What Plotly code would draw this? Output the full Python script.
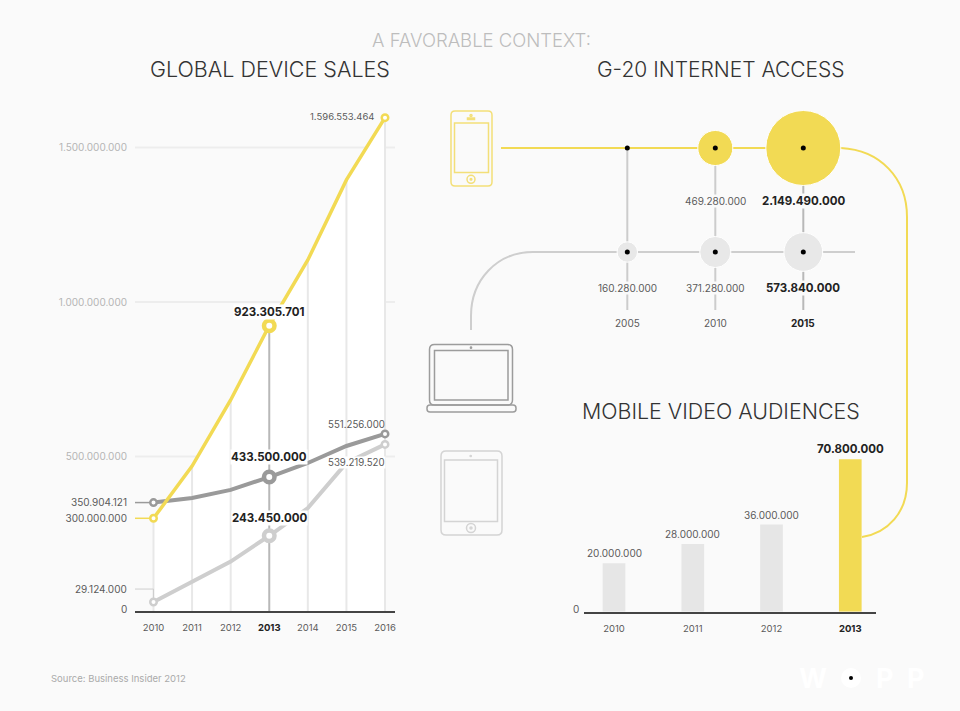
import plotly.graph_objects as go

W, H = 960, 711
FONT = "Inter"
YELLOW = "#f2da54"
DARK = "#9a9a9a"
LIGHT = "#cecece"
STEM = "#e8e8e8"
STEM_ON = "#b8b8b8"
BG = "#fafafa"
TXT = "#5a5a5a"
TXT_BOLD = "#222222"
TXT_AXIS = "#b5b5b5"

# global device sales. plotted values are read off the line positions,
# the printed numbers below are not always on the same scale
years = [2010, 2011, 2012, 2013, 2014, 2015, 2016]
phones = [300000000, 469000000, 683000000, 923305701, 1136000000, 1395000000, 1596553464]
laptops = [350904121, 366000000, 392000000, 433500000, 479000000, 534000000, 573000000]
tablets = [29124000, 95000000, 160000000, 243450000, 333000000, 479000000, 539219520]
grid_values = [500000000, 1000000000, 1500000000]

# g-20 internet access, no mobile bubble in 2005
access_years = [2005, 2010, 2015]
mobile_access = [0, 469280000, 2149490000]
fixed_access = [160280000, 371280000, 573840000]
mobile_labels = ["469.280.000", "2.149.490.000"]
fixed_labels = ["160.280.000", "371.280.000", "573.840.000"]

# mobile video audiences, bar heights
video_years = [2010, 2011, 2012, 2013]
video_bars = [20000000, 28000000, 36000000, 63000000]
video_labels = ["20.000.000", "28.000.000", "36.000.000", "70.800.000"]


def X(px):
    return px / W


def Y(py):
    return 1 - py / H


def pt(x, y):
    return f"{X(x):.5f},{Y(y):.5f}"


def line_path(color, width, d):
    return dict(type="path", xref="paper", yref="paper", layer="below", path=d,
                line=dict(color=color, width=width))


def round_rect(x0, y0, x1, y1, r, color, width):
    d = (f"M{pt(x0 + r, y0)} L{pt(x1 - r, y0)} Q{pt(x1, y0)} {pt(x1, y0 + r)} "
         f"L{pt(x1, y1 - r)} Q{pt(x1, y1)} {pt(x1 - r, y1)} "
         f"L{pt(x0 + r, y1)} Q{pt(x0, y1)} {pt(x0, y1 - r)} "
         f"L{pt(x0, y0 + r)} Q{pt(x0, y0)} {pt(x0 + r, y0)} Z")
    return line_path(color, width, d)


def circle(cx, cy, r, color, width=1.5, fill="rgba(0,0,0,0)"):
    return dict(type="circle", xref="paper", yref="paper", layer="below",
                x0=X(cx - r), x1=X(cx + r), y0=Y(cy + r), y1=Y(cy - r),
                line=dict(color=color, width=width), fillcolor=fill)


def label(text, x, y, xref, yref, size=10, color=TXT, bold=False, anchor="center", xshift=0, yshift=0, bg=None):
    return dict(text=f"<b>{text}</b>" if bold else text, x=x, y=y, xref=xref, yref=yref,
                showarrow=False, xanchor=anchor, yanchor="middle", xshift=xshift, yshift=yshift,
                font=dict(family=FONT, size=size, color=color), bgcolor=bg, borderpad=0)


def page_text(text, x, y, size, color, anchor="center", weight=300):
    return dict(text=text, x=X(x), y=Y(y), xref="paper", yref="paper", showarrow=False,
                xanchor=anchor, yanchor="middle",
                font=dict(family=FONT, size=size, color=color, weight=weight))


def line(x, y, color, width, xa="x", ya="y"):
    return go.Scatter(x=x, y=y, mode="lines", line=dict(color=color, width=width),
                      xaxis=xa, yaxis=ya, hoverinfo="skip", showlegend=False)


def rings(series, color):
    small = go.Scatter(x=[years[0], years[-1]], y=[series[0], series[-1]], mode="markers",
                       marker=dict(size=6.5, color="white", line=dict(color=color, width=2.5)),
                       hoverinfo="skip", showlegend=False)
    big = go.Scatter(x=[years[3]], y=[series[3]], mode="markers",
                     marker=dict(size=10.5, color="white", line=dict(color=color, width=4.5)),
                     hoverinfo="skip", showlegend=False)
    return [small, big]


left_min, left_max = 2010 - 18.5 / 38.58, 2016 + 10 / 38.58
bar_min = 2010 - 30 / 78.7
fig = go.Figure()

# left chart
for v in grid_values:
    fig.add_trace(line([left_min, left_max], [v, v], "#ededed", 2))
fig.add_trace(go.Scatter(x=years, y=phones, mode="none", fill="tozeroy", fillcolor="white",
                         hoverinfo="skip", showlegend=False))
for yr, v in zip(years, phones):
    fig.add_trace(line([yr, yr], [0, v], STEM_ON if yr == 2013 else STEM, 2))
fig.add_trace(line([left_min, 2010], [phones[0], phones[0]], YELLOW, 1.5))
fig.add_trace(line([left_min, 2010], [laptops[0], laptops[0]], DARK, 1.5))
fig.add_trace(line([left_min, 2010, 2010], [71000000, 71000000, tablets[0]], LIGHT, 1))
fig.add_trace(line(years, tablets, LIGHT, 4))
fig.add_trace(line(years, laptops, DARK, 4))
fig.add_trace(line(years, phones, YELLOW, 3.5))
for tr in rings(tablets, LIGHT) + rings(laptops, DARK) + rings(phones, YELLOW):
    fig.add_trace(tr)

# bubbles
stem_bottom = -58 / 104
for yr in access_years:
    fig.add_trace(line([yr, yr], [1, stem_bottom], STEM_ON if yr == 2015 else "#cccccc", 2, "x2", "y2"))
size_ref = max(mobile_access) / (2 * 37.5 ** 2)
fig.add_trace(go.Scatter(x=access_years, y=[1] * 3, mode="markers", xaxis="x2", yaxis="y2",
                         marker=dict(size=mobile_access, sizemode="area", sizeref=size_ref, color=YELLOW, opacity=1),
                         hoverinfo="skip", showlegend=False))
fig.add_trace(go.Scatter(x=access_years, y=[0] * 3, mode="markers", xaxis="x2", yaxis="y2",
                         marker=dict(size=fixed_access, sizemode="area", sizeref=size_ref, color="#e8e8e8", opacity=1),
                         hoverinfo="skip", showlegend=False))
fig.add_trace(go.Scatter(x=access_years * 2, y=[1] * 3 + [0] * 3, mode="markers", xaxis="x2", yaxis="y2",
                         marker=dict(size=5, color="black"), hoverinfo="skip", showlegend=False))

# bars
fig.add_trace(go.Bar(x=video_years, y=video_bars, width=0.288, xaxis="x3", yaxis="y3",
                     marker=dict(color=["#e6e6e6", "#e6e6e6", "#e6e6e6", YELLOW], line=dict(width=0)),
                     hoverinfo="skip", showlegend=False))

# connectors and icons sit under everything
shapes = [
    line_path(LIGHT, 2, f"M{pt(471, 330)} L{pt(471, 316)} C{pt(471, 280)} {pt(497, 252)} {pt(533, 252)} L{pt(855, 252)}"),
    line_path(YELLOW, 2, f"M{pt(501, 148)} L{pt(841, 148)} C{pt(880, 150)} {pt(907, 178)} {pt(907, 217)} "
                         f"L{pt(907, 483)} C{pt(907, 512)} {pt(888, 533)} {pt(862, 537)}"),
    # phone
    round_rect(451, 111, 492, 186, 4, "#f3df78", 1.5),
    round_rect(454.5, 123, 488.5, 172.5, 0, "#f3df78", 1.5),
    circle(471, 179.3, 4, "#f3df78"),
    circle(471, 179.3, 0.8, "#f3df78"),
    circle(471, 115.5, 1, "#f3df78"),
    round_rect(467.5, 118, 474.5, 119.5, 0, "#f3df78", 1.5),
    # laptop
    round_rect(429.5, 344.5, 512.5, 405, 5, "#9c9c9c", 1.5),
    round_rect(434.5, 350.5, 508, 400, 0, "#9c9c9c", 1.5),
    circle(471, 347.7, 0.6, "#9c9c9c"),
    round_rect(427, 405, 516, 412, 3, "#9c9c9c", 1.5),
    # tablet
    round_rect(441, 451, 502, 535, 5, "#d4d4d4", 1.5),
    round_rect(444.5, 460, 497.5, 521.5, 0, "#d4d4d4", 1.5),
    circle(471, 528, 4.5, "#d4d4d4"),
    circle(471, 528, 1, "#d4d4d4"),
    circle(470.7, 456, 0.6, "#d4d4d4"),
    # logo
    circle(851, 678, 10, "white", 0, "white"),
    circle(851, 678, 2, "black", 0, "black"),
]

annotations = [
    page_text("A FAVORABLE CONTEXT:", 481, 39.5, 18.5, "#bdbdbd"),
    page_text("GLOBAL DEVICE SALES", 270, 69, 21.5, "#333333"),
    page_text("G-20 INTERNET ACCESS", 721, 69, 21, "#333333"),
    page_text("MOBILE VIDEO AUDIENCES", 721, 411, 21.4, "#333333"),
    page_text("Source: Business Insider 2012", 49, 678, 9.5, "#aaaaaa", anchor="left", weight=400),
    page_text("<b>W</b>", 813, 678, 27, "white", weight=700),
    page_text("<b>P</b>", 885, 678, 27, "white", weight=700),
    page_text("<b>P</b>", 916, 678, 27, "white", weight=700),
    label("29.124.000", left_min, 71000000, "x", "y", anchor="right", xshift=-7.5),
    label("0", left_min, 0, "x", "y", anchor="right", xshift=-7.5, yshift=2),
    label("1.596.553.464", 2016, phones[6], "x", "y", size=9.5, anchor="right", xshift=-10, yshift=1),
    label("551.256.000", 2016, laptops[6], "x", "y", size=9.7, anchor="right", xshift=1, yshift=9),
    label("539.219.520", 2016, tablets[6], "x", "y", size=9.7, anchor="right", xshift=1, yshift=-18, bg="white"),
    label("923.305.701", 2013, phones[3], "x", "y", size=11.5, color=TXT_BOLD, bold=True, yshift=14, bg="white"),
    label("433.500.000", 2013, laptops[3], "x", "y", size=11.5, color=TXT_BOLD, bold=True, yshift=20, bg="white"),
    label("243.450.000", 2013, tablets[3], "x", "y", size=11.5, color=TXT_BOLD, bold=True, yshift=18, bg="white"),
]
for yr, txt in zip(access_years[1:], mobile_labels):
    big = yr == 2015
    annotations.append(label(txt, yr, 1, "x2", "y2", size=11.5 if big else 10, color=TXT_BOLD if big else TXT,
                             bold=big, yshift=-53, bg=BG))
for yr, txt in zip(access_years, fixed_labels):
    big = yr == 2015
    annotations.append(label(txt, yr, 0, "x2", "y2", size=11.5 if big else 10, color=TXT_BOLD if big else TXT,
                             bold=big, yshift=-36, bg=BG))
for yr in access_years:
    big = yr == 2015
    annotations.append(label(str(yr), yr, 0, "x2", "y2", size=10, color=TXT_BOLD if big else TXT,
                             bold=big, yshift=-71))
for yr, v, txt in zip(video_years, video_bars, video_labels):
    big = yr == 2013
    annotations.append(label(txt, yr, v, "x3", "y3", size=11.5 if big else 10, color=TXT_BOLD if big else TXT,
                             bold=big, yshift=10))
annotations.append(label("0", bar_min, 0, "x3", "y3", color=TXT, anchor="right", xshift=-4, yshift=2.5))

y_ticks = [phones[0], laptops[0]] + grid_values
y_text = ["<span style='color:%s'>300.000.000</span>" % TXT, "<span style='color:%s'>350.904.121</span>" % TXT,
          "500.000.000", "1.000.000.000", "1.500.000.000"]


def year_text(values, bold_year):
    return [f"<b style='color:{TXT_BOLD}'>{v}</b>" if v == bold_year else str(v) for v in values]


hidden = dict(visible=False, fixedrange=True)
fig.update_layout(
    width=W, height=H, margin=dict(l=0, r=0, t=0, b=0), autosize=False,
    paper_bgcolor=BG, plot_bgcolor="rgba(0,0,0,0)", showlegend=False,
    font=dict(family=FONT, size=10, color=TXT),
    shapes=shapes, annotations=annotations,
    xaxis=dict(domain=[X(135), X(395)], range=[left_min, left_max], tickvals=years,
               ticktext=year_text(years, 2013), showgrid=False, zeroline=False, showline=True,
               linecolor="#444444", linewidth=2, ticks="", ticklabelstandoff=7,
               tickfont=dict(family=FONT, size=9.5, color=TXT), anchor="y"),
    yaxis=dict(domain=[Y(611), Y(100)], range=[0, 511 / 309 * 1e9], tickvals=y_ticks, ticktext=y_text,
               showgrid=False, zeroline=False, showline=False, ticks="", ticklabelstandoff=7,
               tickfont=dict(family=FONT, size=10, color=TXT_AXIS), anchor="x"),
    xaxis2=dict(domain=[X(480), X(860)], range=[2005 - 147.3 / 17.6, 2015 + 56.7 / 17.6], anchor="y2", **hidden),
    yaxis2=dict(domain=[Y(330), Y(100)], range=[-78 / 104, 1 + 48 / 104], anchor="x2", **hidden),
    xaxis3=dict(domain=[X(584), X(876)], range=[bar_min, 2013 + 25.7 / 78.7], tickvals=video_years,
                ticktext=year_text(video_years, 2013), showgrid=False, zeroline=False, showline=True,
                linecolor="#444444", linewidth=2, ticks="", ticklabelstandoff=7,
                tickfont=dict(family=FONT, size=9.5, color=TXT), anchor="y3"),
    yaxis3=dict(domain=[Y(611.7), Y(440)], range=[0, 171.7 / 2.42 * 1e6], anchor="x3", **hidden),
)

# the page's default body margin would push the 960x711 figure off by 8px
fig.write_html("out.html", config=dict(displayModeBar=False),
               post_script="document.body.style.margin='0';document.body.style.background='%s';" % BG)
